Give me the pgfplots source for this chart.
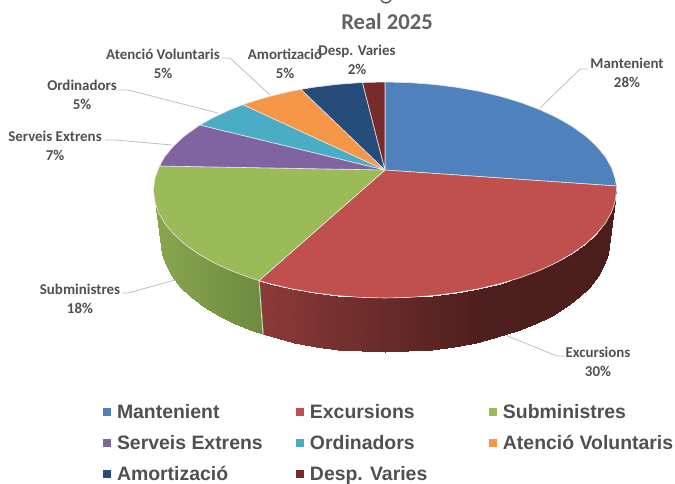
\documentclass[border=0pt]{standalone}
\usepackage{fontspec}
\setmainfont{Carlito}
\newfontfamily\legfont{Liberation Sans}
\usepackage{pgfplots}
\pgfplotsset{compat=1.18}

\definecolor{cMan}{HTML}{4F81BD}
\definecolor{cExc}{HTML}{C0504D}
\definecolor{cSub}{HTML}{9BBB59}
\definecolor{cSer}{HTML}{8064A2}
\definecolor{cOrd}{HTML}{4BACC6}
\definecolor{cAte}{HTML}{F79646}
\definecolor{cAmo}{HTML}{264C7A}
\definecolor{cDes}{HTML}{772C2A}
\definecolor{txt}{HTML}{505050}
\definecolor{lead}{HTML}{BFBFBF}
\definecolor{rim}{HTML}{E6E6E6}

\pgfplotsset{
  colormap={redwall}{rgb255(0pt)=(140,58,56) rgb255(110pt)=(140,58,56) rgb255(330pt)=(77,31,30) rgb255(470pt)=(75,30,28)},
  colormap={greenwall}{rgb255(0pt)=(138,167,79) rgb255(115pt)=(109,138,63) rgb255(470pt)=(109,138,63)},
  face/.style={fill=#1,draw=rim,line width=0.6pt,line join=round},
  leader/.style={forget plot,no marks,draw=lead,line width=0.8pt},
  wall/.style={forget plot,surf,shader=interp,point meta=x,mesh/cols=2},
}
\newcommand{\lab}[3]{\node[font=\fontsize{15}{19}\selectfont\bfseries,text=txt,align=center,inner sep=0pt] at (axis cs:#1,#2) {#3};}
\newcommand{\leg}[1]{\makebox[175bp][l]{\hspace*{4bp}\rule[-5bp]{0pt}{19bp}#1}}

\begin{document}
\begin{tikzpicture}
\path[use as bounding box] (0,0) rectangle (675bp,484bp);
\begin{axis}[
    at={(0,0)}, anchor=south west,
    width=675bp, height=484bp, scale only axis,
    xmin=0, xmax=675, ymin=0, ymax=484, y dir=reverse,
    hide axis, point meta min=150, point meta max=620,
    legend columns=3,
    legend image code/.code={\fill[#1,draw=none] (0bp,-4bp) rectangle (8bp,4bp);},
    legend style={draw=none,fill=none,at={(0.1526,0.0)},anchor=south west,
      legend cell align=left,inner sep=0pt,outer sep=0pt,
      font=\legfont\fontsize{19.5}{21}\selectfont\bfseries,text=txt,
      /tikz/every even column/.style={column sep=6bp},
      /tikz/row sep=11.5bp},
]

% side walls, top rim then bottom rim at each step
\addplot[wall,colormap name=redwall,mesh/rows=23] table {
x y
616.4 186
609.0 242
615.2 201.3
607.8 253.5
611.4 212.5
604.1 264.9
605.2 223.4
598.0 276.0
596.5 233.9
589.6 286.7
585.5 244
579.0 297
572.3 253.5
566.2 306.7
557.0 262.3
551.5 315.6
539.9 270.3
534.9 323.7
521.1 277.4
516.7 331
500.8 283.5
497.0 337.3
479.2 288.7
476.1 342.5
456.5 292.7
454.2 346.6
433.1 295.6
431.6 349.6
409.2 297.4
408.4 351.4
385.0 298
385.0 352
360.8 297.4
361.6 351.4
336.9 295.6
338.4 349.6
313.5 292.7
315.8 346.6
290.8 288.7
293.9 342.5
269.2 283.5
273.0 337.3
259.0 280.6
263.0 334.3
259.0 280.6
263.0 334.3
};
\addplot[wall,colormap name=greenwall,mesh/rows=11] table {
x y
259.0 280.6
263.0 334.3
248.9 277.4
253.3 331
230.1 270.3
235.1 323.7
213.0 262.3
218.5 315.6
197.7 253.5
203.8 306.7
184.5 244
191.0 297
173.5 233.9
180.4 286.7
164.8 223.4
172.0 276
158.6 212.5
165.9 264.9
154.8 201.3
162.2 253.5
153.5 190
161.0 242
};
\addplot[forget plot,no marks,draw=rim,line width=0.7pt] coordinates {(259,281)(263,334)};

% top faces
\addplot[face=cMan] coordinates {(385,170)(385,82)(409.2,82.6)(433.1,84.4)(456.5,87.3)(479.2,91.3)(500.8,96.5)(521.1,102.6)(539.9,109.7)(557,117.7)(572.3,126.5)(585.5,136)(596.5,146.1)(605.2,156.6)(611.4,167.5)(615.2,178.7)(616.4,186)(385,170)};
\addlegendentry{\leg{Mantenient}}
\addplot[face=cExc] coordinates {(385,170)(616.4,186)(616.5,190)(615.2,201.3)(611.4,212.5)(605.2,223.4)(596.5,233.9)(585.5,244)(572.3,253.5)(557,262.3)(539.9,270.3)(521.1,277.4)(500.8,283.5)(479.2,288.7)(456.5,292.7)(433.1,295.6)(409.2,297.4)(385,298)(360.8,297.4)(336.9,295.6)(313.5,292.7)(290.8,288.7)(269.2,283.5)(259,280.6)(385,170)};
\addlegendentry{\leg{Excursions}}
\addplot[face=cSub] coordinates {(385,170)(259,280.6)(248.9,277.4)(230.1,270.3)(213,262.3)(197.7,253.5)(184.5,244)(173.5,233.9)(164.8,223.4)(158.6,212.5)(154.8,201.3)(153.5,190)(154.8,178.7)(159.5,166)(385,170)};
\addlegendentry{\leg{Subministres}}
\addplot[face=cSer] coordinates {(385,170)(159.5,166)(164.8,156.6)(173.5,146.1)(184.5,136)(197.7,126.5)(200,125)(385,170)};
\addlegendentry{\leg{Serveis Extrens}}
\addplot[face=cOrd] coordinates {(385,170)(200,125)(213,117.7)(230.1,109.7)(243,104.7)(385,170)};
\addlegendentry{\leg{Ordinadors}}
\addplot[face=cAte] coordinates {(385,170)(243,104.7)(248.9,102.6)(269.2,96.5)(290.8,91.3)(301,89.4)(385,170)};
\addlegendentry{\leg{Atenció Voluntaris}}
\addplot[face=cAmo] coordinates {(385,170)(301,89.4)(313.5,87.3)(336.9,84.4)(360.8,82.6)(362.5,82.5)(385,170)};
\addlegendentry{\leg{Amortizació}}
\addplot[face=cDes] coordinates {(385,170)(362.5,82.5)(385,82)(385,170)};
\addlegendentry{\leg{Desp. Varies}}

% leader lines
\addplot[leader] coordinates {(540,108)(580,69)(588,69)};
\addplot[leader] coordinates {(505,335)(557,356)(565,356)};
\addplot[leader] coordinates {(175,280)(128,293)(122,293)};
\addplot[leader] coordinates {(172,145)(115,140)(105,140)};
\addplot[leader] coordinates {(218,113)(128,90)(118,90)};
\addplot[leader] coordinates {(270,95)(230,58)(222,58)};

% what is left of the cropped first title line
\addplot[forget plot,no marks,draw=txt,line width=1.3pt] coordinates {(381,0)(383,2)(386,3)(389,2)(391,0)};

\lab{627}{73}{Mantenient\\28\%}
\lab{598}{362}{Excursions\\30\%}
\lab{80}{299}{Subministres\\18\%}
\lab{55}{146}{Serveis Extrens\\7\%}
\lab{82}{95}{Ordinadors\\5\%}
\lab{163}{64}{Atenció Voluntaris\\5\%}
\lab{285}{64}{Amortizació\\5\%}
\lab{357}{60}{Desp. Varies\\2\%}
\node[font=\fontsize{22.7}{24}\selectfont\bfseries,text=txt!90,inner sep=0pt] at (axis cs:387,22) {Real 2025};
\end{axis}
\end{tikzpicture}
\end{document}
